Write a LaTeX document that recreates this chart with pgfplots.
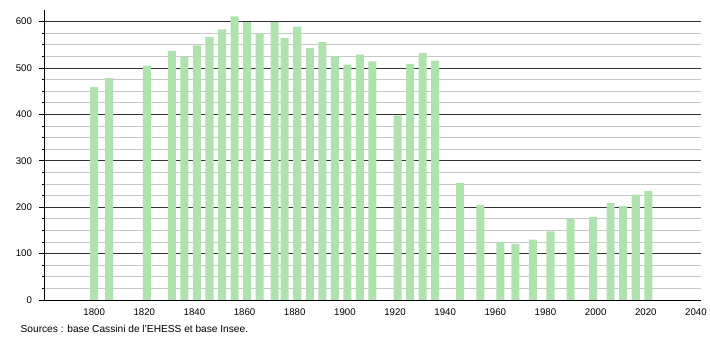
\documentclass[border=0pt]{standalone}
\usepackage{pgfplots}
\pgfplotsset{compat=1.18}
\usepackage{fontspec}
\setmainfont{Liberation Sans}
\definecolor{barg}{RGB}{176,226,176}
\pgfplotstableread{
year pop
1800 459
1806 478
1821 505
1831 537
1836 524
1841 549
1846 567
1851 583
1856 611
1861 599
1866 574
1872 599
1876 565
1881 589
1886 543
1891 556
1896 524
1901 507
1906 529
1911 514
1921 398
1926 509
1931 532
1936 516
1946 252
1954 205
1962 125
1968 121
1975 130
1982 148
1990 174
1999 179
2006 209
2011 203
2016 227
2021 235
}\pop
\begin{document}
\begin{tikzpicture}
\begin{axis}[
  at={(0,0)}, anchor=south west,
  scale only axis,
  width=657bp, height=290bp,
  xmin=1780, xmax=2042, ymin=0, ymax=625,
  enlargelimits=false,
  axis lines*=left,
  axis line style={black, line width=0.7pt},
  xtick={1800,1820,...,2040},
  ytick={0,100,...,600},
  minor y tick num=3,
  ymajorgrids, yminorgrids,
  major grid style={draw=black!80, line width=0.6pt},
  minor grid style={draw=black!22, line width=0.6pt},
  tick align=outside,
  x tick style={draw=none},
  y tick style={black, line width=0.6pt},
  major tick length=4.5bp,
  minor tick length=1.5bp,
  tick label style={font=\fontsize{9.7}{11}\selectfont},
  /pgf/number format/assume math mode=true,
  /pgf/number format/1000 sep={},
  xticklabel style={yshift=-1bp},
  yticklabel style={xshift=-4bp},
  ybar, bar width=3.2,
]
\addplot[fill=barg, draw=none] table[x=year, y=pop] {\pop};
\end{axis}
\path (-44bp,-40bp) rectangle (666bp,300bp);
\node[anchor=west, inner sep=0pt, font=\fontsize{10.2}{12}\selectfont] at (-23.5bp,-29bp) {Sources : base Cassini de l'EHESS et base Insee.};
\end{tikzpicture}
\end{document}
